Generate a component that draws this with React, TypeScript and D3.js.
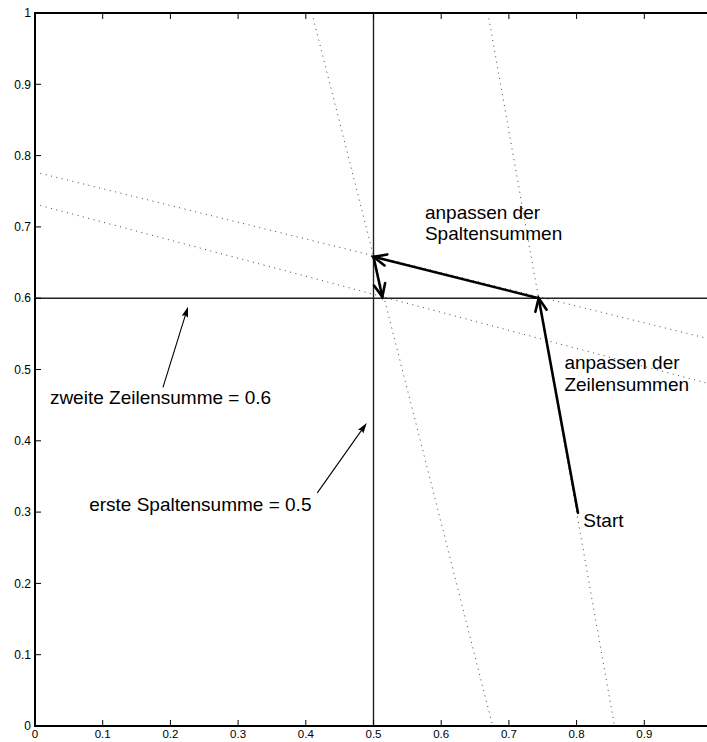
import React from "react";
import * as d3 from "d3";

// values
const xTicks = [0, 0.1, 0.2, 0.3, 0.4, 0.5, 0.6, 0.7, 0.8, 0.9];
const yTicks = [0, 0.1, 0.2, 0.3, 0.4, 0.5, 0.6, 0.7, 0.8, 0.9, 1];
const rowSum = 0.6;
const colSum = 0.5;
// dotted lines: [x0, y0, x1, y1]
const rowLines = [
  [0, 0.777, 1, 0.542],
  [0, 0.732, 1, 0.479],
];
const colLines = [
  [0.409, 1, 0.676, 0],
  [0.669, 1, 0.856, 0],
];
// iteration path
const steps = [
  [0.802, 0.299],
  [0.744, 0.6],
  [0.5, 0.658],
  [0.513, 0.602],
];
// thin pointer arrows [x0, y0, x1, y1]
const pointers = [
  [0.189, 0.475, 0.226, 0.588],
  [0.417, 0.327, 0.49, 0.425],
];
const labels = [
  { text: "zweite Zeilensumme = 0.6", x: 0.022, y: 0.451 },
  { text: "erste Spaltensumme = 0.5", x: 0.080, y: 0.301 },
  { text: "anpassen der", x: 0.576, y: 0.711 },
  { text: "Spaltensummen", x: 0.576, y: 0.682 },
  { text: "anpassen der", x: 0.782, y: 0.501 },
  { text: "Zeilensummen", x: 0.782, y: 0.470 },
  { text: "Start", x: 0.810, y: 0.279 },
];

const W = 707;
const H = 742;
const x = d3.scaleLinear().domain([0, 1]).range([35, 712]);
const y = d3.scaleLinear().domain([0, 1]).range([726, 13]);
const fmt = (d: number) => (d === 0 || d === 1 ? String(d) : d3.format(".1f")(d));

const Arrow = ({ p, thick }: { p: number[]; thick: boolean }) => {
  const [x0, y0, x1, y1] = [x(p[0]), y(p[1]), x(p[2]), y(p[3])];
  const a = Math.atan2(y1 - y0, x1 - x0);
  const len = thick ? 14 : 11;
  const spread = thick ? 0.42 : 0.3;
  const h1 = [x1 - len * Math.cos(a - spread), y1 - len * Math.sin(a - spread)];
  const h2 = [x1 - len * Math.cos(a + spread), y1 - len * Math.sin(a + spread)];
  if (thick) {
    return (
      <g stroke="#000" strokeWidth={2.6} fill="none" strokeLinecap="round">
        <line x1={x0} y1={y0} x2={x1} y2={y1} />
        <polyline points={`${h1[0]},${h1[1]} ${x1},${y1} ${h2[0]},${h2[1]}`} />
      </g>
    );
  }
  const back = [x1 - len * 0.8 * Math.cos(a), y1 - len * 0.8 * Math.sin(a)];
  return (
    <g>
      <line x1={x0} y1={y0} x2={back[0]} y2={back[1]} stroke="#000" strokeWidth={1.1} />
      <path d={`M${x1},${y1}L${h1[0]},${h1[1]}L${back[0]},${back[1]}L${h2[0]},${h2[1]}Z`} fill="#000" />
    </g>
  );
};

export default function App() {
  const line = d3.line<number[]>().x((d) => x(d[0])).y((d) => y(d[1]));
  const stepArrows = d3.pairs(steps).map(([a, b]) => [a[0], a[1], b[0], b[1]]);
  return (
    <svg width={W} height={H} style={{ position: "absolute", left: 0, top: 0, background: "#fff" }}
      fontFamily="Liberation Sans, Arial, sans-serif">
      <defs>
        <clipPath id="plot">
          <rect x={x(0)} y={y(1)} width={x(1) - x(0)} height={y(0) - y(1)} />
        </clipPath>
      </defs>
      <g clipPath="url(#plot)">
        {[...rowLines, ...colLines].map((l, i) => (
          <path key={i} d={line([[l[0], l[1]], [l[2], l[3]]]) as string}
            stroke="#444" strokeWidth={1} strokeDasharray="1 4.5" fill="none" />
        ))}
        <line x1={x(0)} x2={x(1)} y1={y(rowSum)} y2={y(rowSum)} stroke="#222" strokeWidth={1.4} />
        <line x1={x(colSum)} x2={x(colSum)} y1={y(0)} y2={y(1)} stroke="#222" strokeWidth={1.4} />
      </g>
      {stepArrows.map((p, i) => <Arrow key={i} p={p} thick />)}
      {pointers.map((p, i) => <Arrow key={i} p={p} thick={false} />)}
      {labels.map((l, i) => (
        <text key={i} x={x(l.x)} y={y(l.y)} fontSize={19} fill="#000">{l.text}</text>
      ))}
      {/* axes box */}
      <rect x={x(0)} y={y(1)} width={x(1) - x(0)} height={y(0) - y(1)} fill="none" stroke="#000" strokeWidth={2} />
      {xTicks.map((t) => (
        <g key={"x" + t}>
          <line x1={x(t)} x2={x(t)} y1={y(0)} y2={y(0) - 6} stroke="#000" />
          <line x1={x(t)} x2={x(t)} y1={y(1)} y2={y(1) + 6} stroke="#000" />
          <text x={x(t)} y={738} fontSize={11.5} textAnchor="middle">{fmt(t)}</text>
        </g>
      ))}
      {yTicks.map((t) => (
        <g key={"y" + t}>
          <line x1={x(0)} x2={x(0) + 6} y1={y(t)} y2={y(t)} stroke="#000" />
          <text x={31} y={y(t)} dy="0.35em" fontSize={12} textAnchor="end">{fmt(t)}</text>
        </g>
      ))}
    </svg>
  );
}
